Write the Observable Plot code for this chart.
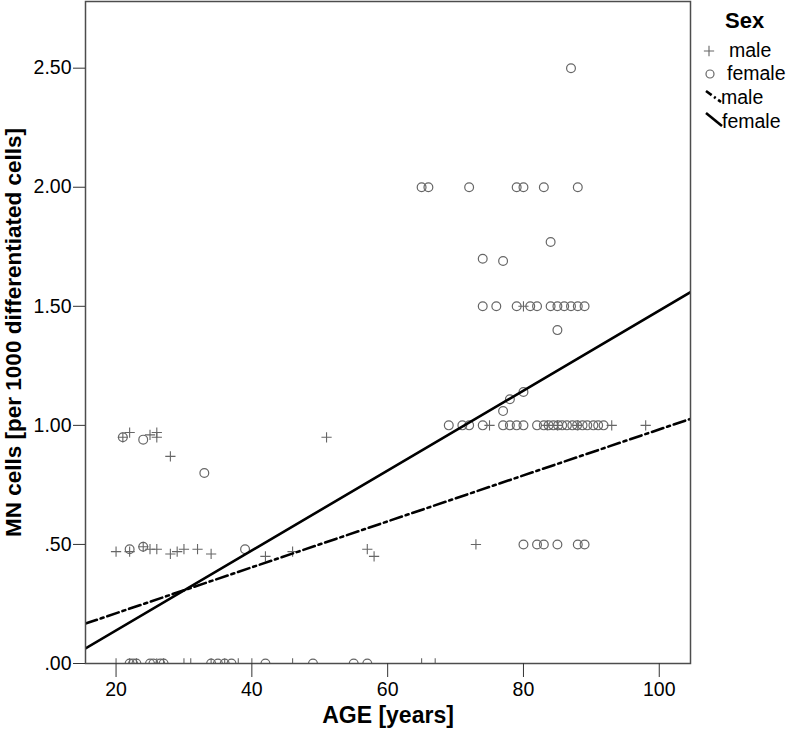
<!DOCTYPE html>
<html>
<head>
<meta charset="utf-8">
<script src="https://cdn.jsdelivr.net/npm/d3@7"></script>
<script src="https://cdn.jsdelivr.net/npm/@observablehq/plot@0.6"></script>
<style>
  html, body { margin: 0; padding: 0; background: #fff; }
  #wrap { position: relative; width: 790px; height: 736px; font-family: "Liberation Sans", Arial, sans-serif; }
  #legend { position: absolute; left: 0; top: 0; pointer-events: none; }
</style>
</head>
<body>
<div id="wrap"></div>
<script>
// ---- data ----
const maleAge = [21, 22, 25, 26, 26, 28, 51,
  20, 22, 24, 25, 26, 28, 29, 30, 32, 34, 42, 46, 57, 58, 73,
  20, 22, 23, 26, 27, 30, 31, 34, 36, 38, 40, 46, 65, 67,
  75, 83.5, 85, 88, 93, 98, 80];
const maleMN = [0.95, 0.97, 0.96, 0.97, 0.95, 0.87, 0.95,
  0.47, 0.47, 0.49, 0.48, 0.48, 0.46, 0.47, 0.48, 0.48, 0.46, 0.45, 0.47, 0.48, 0.45, 0.50,
  0, 0, 0, 0, 0, 0, 0, 0, 0, 0, 0, 0, 0, 0,
  1.00, 1.00, 1.00, 1.00, 1.00, 1.00, 1.50];

const femaleAge = [21, 24, 33, 22, 24, 39,
  22, 22.5, 23, 25, 25.5, 26.5, 27, 34, 35, 36, 37, 42, 49, 55, 57,
  87,
  65, 66, 72, 79, 80, 83, 88,
  84, 74, 77,
  74, 76, 79, 81, 82, 84, 85, 86, 87, 88, 89,
  85,
  80, 78, 77,
  69, 71, 72, 74, 77, 78, 79, 80, 82, 83, 83.7, 84.4, 85.1, 85.7, 86.4, 87.2, 87.9, 88.7, 89.4, 90.3, 91, 91.8,
  80, 82, 83, 85, 88, 89];
const femaleMN = [0.95, 0.94, 0.80, 0.48, 0.49, 0.48,
  0, 0, 0, 0, 0, 0, 0, 0, 0, 0, 0, 0, 0, 0, 0,
  2.50,
  2.00, 2.00, 2.00, 2.00, 2.00, 2.00, 2.00,
  1.77, 1.70, 1.69,
  1.50, 1.50, 1.50, 1.50, 1.50, 1.50, 1.50, 1.50, 1.50, 1.50, 1.50,
  1.40,
  1.14, 1.11, 1.06,
  1.00, 1.00, 1.00, 1.00, 1.00, 1.00, 1.00, 1.00, 1.00, 1.00, 1.00, 1.00, 1.00, 1.00, 1.00, 1.00, 1.00, 1.00, 1.00, 1.00, 1.00, 1.00,
  0.50, 0.50, 0.50, 0.50, 0.50, 0.50];

// fitted regression lines (per sex)
const fitSex = ["male", "female"];
const fitIntercept = [0.018, -0.197];
const fitSlope = [0.00965, 0.01679];

// axes
const xTicks = [20, 40, 60, 80, 100];
const yTicks = [0, 0.5, 1, 1.5, 2, 2.5];
const yTickLabels = [".00", ".50", "1.00", "1.50", "2.00", "2.50"];
const xDomain = [15.5, 104.6];
const yDomain = [0, 2.78];

// legend
const legendTitle = "Sex";
const legendLabels = ["male", "female", "male", "female"];

// ---- build ----
const male = maleAge.map((a, i) => ({age: a, mn: maleMN[i]}));
const female = femaleAge.map((a, i) => ({age: a, mn: femaleMN[i]}));
const fitLines = fitSex.flatMap((s, i) => xDomain.map(a => ({sex: s, age: a, mn: fitIntercept[i] + fitSlope[i] * a})));

const chart = Plot.plot({
  width: 790,
  height: 736,
  marginLeft: 85,
  marginRight: 100,
  marginTop: 1,
  marginBottom: 73,
  style: {fontFamily: "'Liberation Sans', Arial, sans-serif", background: "white", color: "black"},
  x: {domain: xDomain, label: null},
  y: {domain: yDomain, label: null},
  marks: [
    Plot.dot(female, {x: "age", y: "mn", r: 4.4, stroke: "#666", strokeWidth: 1.2, clip: true}),
    Plot.dot(male, {x: "age", y: "mn", symbol: "plus", r: 3.4, stroke: "#666", strokeWidth: 1.1, clip: true}),
    Plot.line(fitLines.filter(d => d.sex === "male"), {x: "age", y: "mn", stroke: "black", strokeWidth: 2.6, strokeDasharray: "12,4,3,4", clip: true}),
    Plot.line(fitLines.filter(d => d.sex === "female"), {x: "age", y: "mn", stroke: "black", strokeWidth: 2.6, clip: true}),
    Plot.frame({stroke: "#4d4d4d", strokeWidth: 1.5}),
    Plot.axisX({ticks: xTicks, tickSize: 14, tickPadding: 5, fontSize: 19.5, label: null, stroke: "#333"}),
    Plot.axisY({ticks: yTicks, tickFormat: (d) => yTickLabels[yTicks.indexOf(d)], tickSize: 12, tickPadding: 2, fontSize: 19.5, label: null, stroke: "#333"}),
    Plot.text(["AGE [years]"], {text: d => d, frameAnchor: "bottom", dy: 59, fontSize: 23, fontWeight: "bold"}),
    Plot.text(["MN cells [per 1000 differentiated cells]"], {text: d => d, frameAnchor: "left", textAnchor: "middle", dx: -72, rotate: -90, fontSize: 22.5, fontWeight: "bold"})
  ]
});
document.getElementById("wrap").appendChild(chart);

// legend overlay
const lg = d3.select("#wrap").append("svg").attr("id", "legend").attr("width", 790).attr("height", 140)
  .style("font-family", "'Liberation Sans', Arial, sans-serif");
lg.append("text").attr("x", 725).attr("y", 28).attr("font-size", 22).attr("font-weight", "bold").text(legendTitle);
lg.append("path").attr("d", d3.symbol(d3.symbolPlus, Math.PI * 3.4 * 3.4)()).attr("transform", "translate(709,51)")
  .attr("fill", "none").attr("stroke", "#666").attr("stroke-width", 1.1);
lg.append("circle").attr("cx", 710).attr("cy", 74).attr("r", 4).attr("fill", "none").attr("stroke", "#666").attr("stroke-width", 1.2);
lg.append("line").attr("x1", 706).attr("y1", 91).attr("x2", 721).attr("y2", 102).attr("stroke", "black").attr("stroke-width", 2.6).attr("stroke-dasharray", "7,3,2,3");
lg.append("line").attr("x1", 706).attr("y1", 113).attr("x2", 722).attr("y2", 126).attr("stroke", "black").attr("stroke-width", 2.6);
const ly = [57, 80, 104, 128];
const lx = [729, 727, 721, 722];
legendLabels.forEach((t, i) => {
  lg.append("text").attr("x", lx[i]).attr("y", ly[i]).attr("font-size", 19.5).text(t);
});
</script>
</body>
</html>
